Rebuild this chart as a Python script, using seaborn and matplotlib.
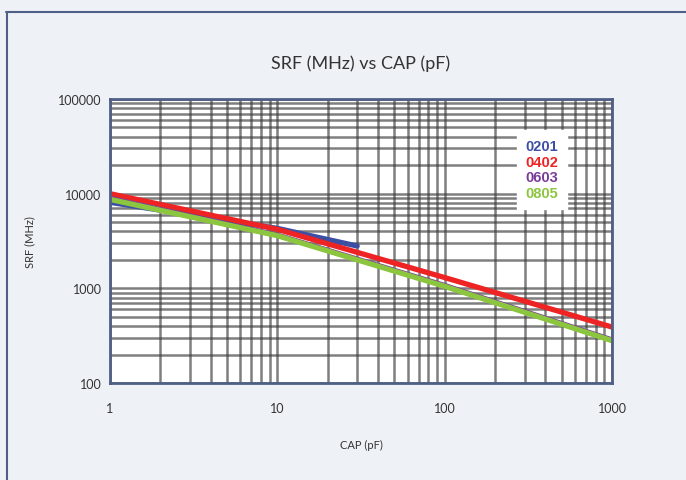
import matplotlib
matplotlib.use("Agg")
import matplotlib.pyplot as plt
from matplotlib.lines import Line2D
import seaborn as sns
import pandas as pd

# ---- data ----
sizes = ["0201", "0402", "0603", "0805"]
cap_0201 = [1, 10, 30]
srf_0201 = [8100, 4300, 2800]
cap_0402 = [1, 10, 100, 1000]
srf_0402 = [10000, 4200, 1300, 390]
cap_0603 = [1, 10, 100, 1000]
srf_0603 = [8900, 3650, 1070, 285]
cap_0805 = [1, 10, 100, 1000]
srf_0805 = [8700, 3600, 1050, 280]
x_ticks = [1, 10, 100, 1000]
y_ticks = [100, 1000, 10000, 100000]
colors = {"0201": "#3d4fa3", "0402": "#ee2424", "0603": "#7a3b98", "0805": "#8cc63f"}

rows = []
for name, xs, ys in [("0201", cap_0201, srf_0201), ("0402", cap_0402, srf_0402),
                     ("0603", cap_0603, srf_0603), ("0805", cap_0805, srf_0805)]:
    for x, y in zip(xs, ys):
        rows.append({"CAP": x, "SRF": y, "size": name})
df = pd.DataFrame(rows)

sns.set_style("white")
plt.rcParams["font.family"] = ["Lato", "DejaVu Sans"]

fig = plt.figure(figsize=(6.86, 4.81), dpi=100, facecolor="#eef1f5")
ax = fig.add_axes([110/686, 97/481, 502/686, 284/481])
ax.set_facecolor("white")

sns.lineplot(data=df, x="CAP", y="SRF", hue="size", hue_order=sizes,
             palette=colors, linewidth=3.8, ax=ax, legend=False, sort=True)

ax.set_xscale("log")
ax.set_yscale("log")
ax.set_xlim(1, 1000)
ax.set_ylim(100, 100000)
ax.grid(which="both", color="#3a3a3a", alpha=0.65, linewidth=1.8, zorder=0)
ax.set_axisbelow(True)

ax.set_xticks(x_ticks)
ax.set_xticklabels([str(v) for v in x_ticks])
ax.set_yticks(y_ticks)
ax.set_yticklabels([str(v) for v in y_ticks])
ax.minorticks_on()
ax.tick_params(which="both", length=0)
ax.tick_params(axis="x", pad=14, labelsize=9, colors="#333333")
ax.tick_params(axis="y", pad=6, labelsize=9, colors="#333333")
ax.tick_params(which="minor", labelbottom=False, labelleft=False)

for s in ax.spines.values():
    s.set_color("#4f5f85")
    s.set_linewidth(2)
    s.set_visible(True)

ax.set_xlabel("CAP (pF)", fontsize=8, color="#333333")
ax.xaxis.set_label_coords(0.5, -(437 - 381) / 284)
ax.set_ylabel("SRF (MHz)", fontsize=8, color="#333333")
ax.yaxis.set_label_coords(-(110 - 35) / 502, 0.5)
ax.set_title("SRF (MHz) vs CAP (pF)", fontsize=13, color="#333333", pad=22)

handles = [Line2D([], [], color=colors[s], lw=0) for s in sizes]
leg = ax.legend(handles, sizes, loc="upper left", bbox_to_anchor=(0.81, 0.89),
                borderaxespad=0, handlelength=0, handletextpad=0,
                labelcolor=[colors[s] for s in sizes], frameon=True,
                fancybox=False, framealpha=1, edgecolor="white",
                prop={"weight": "bold", "size": 10.5, "family": ["Liberation Sans"]},
                labelspacing=0.12, borderpad=0.6)

fig.add_artist(Line2D([6/686, 1], [1 - 12.5/481, 1 - 12.5/481], color="#4f5f85", lw=1.5))
fig.add_artist(Line2D([6.5/686, 6.5/686], [0, 1 - 12.5/481], color="#4f5f85", lw=1.5))

fig.savefig("out.png", dpi=100, facecolor=fig.get_facecolor())
